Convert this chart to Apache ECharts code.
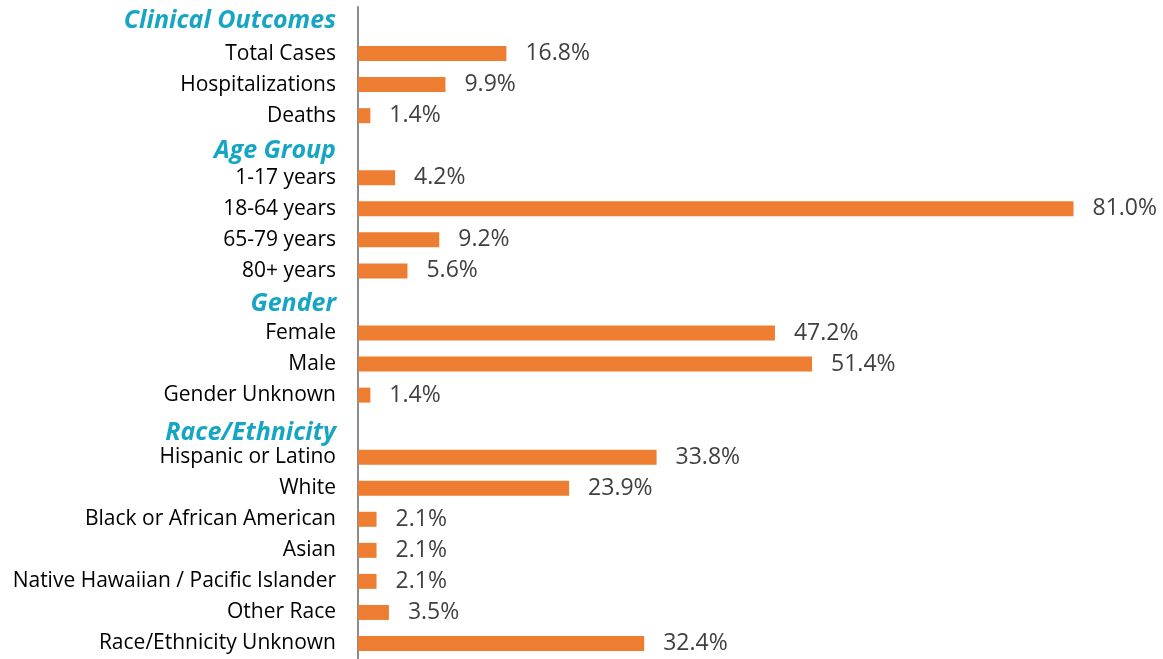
<!DOCTYPE html>
<html><head><meta charset="utf-8">
<script src="https://cdn.jsdelivr.net/npm/echarts@6/dist/echarts.min.js"></script>
<style>html,body{margin:0;padding:0;background:#fff}#c{width:1163px;height:659px}</style>
</head><body><div id="c"></div>
<script>
const categories = [
  'Clinical Outcomes','Total Cases','Hospitalizations','Deaths',
  'Age Group','1-17 years','18-64 years','65-79 years','80+ years',
  'Gender','Female','Male','Gender Unknown',
  'Race/Ethnicity','Hispanic or Latino','White','Black or African American','Asian','Native Hawaiian / Pacific Islander','Other Race','Race/Ethnicity Unknown'
];
const headers = ['Clinical Outcomes','Age Group','Gender','Race/Ethnicity'];
const values = [
  null,16.8,9.9,1.4,
  null,4.2,81.0,9.2,5.6,
  null,47.2,51.4,1.4,
  null,33.8,23.9,2.1,2.1,2.1,3.5,32.4
];
const headerStyleKeys = ['h0','h1','h2','h3'];

const chart = echarts.init(document.getElementById('c'));
const hBase = {fontFamily:'Open Sans',fontSize:25,fontWeight:'bold',fontStyle:'italic',color:'#17a5c4'};
chart.setOption({
  animation:false,
  grid:{left:358,width:795,top:7,height:655,containLabel:false},
  xAxis:{type:'value',min:0,max:90,show:false},
  yAxis:{
    type:'category',inverse:true,data:categories,
    axisLine:{show:true,lineStyle:{color:'#8c8c8c',width:2}},
    axisTick:{show:false},
    axisLabel:{
      margin:22,
      formatter:function(v){
        const i=headers.indexOf(v);
        if(i>=0) return '{'+headerStyleKeys[i]+'|'+v+'}';
        return '{n|'+v+'}';
      },
      rich:{
        n:{fontFamily:'Open Sans',fontSize:21,color:'#000'},
        h0:Object.assign({},hBase,{padding:[0,0,4,0]}),
        h1:Object.assign({},hBase,{padding:[8,0,0,0]}),
        h2:Object.assign({},hBase,{padding:[4,0,0,0]}),
        h3:Object.assign({},hBase,{padding:[14,0,0,0]})
      }
    }
  },
  series:[{
    type:'bar',data:values,barWidth:15,
    itemStyle:{color:'#ed7d31'},
    label:{show:true,position:'right',distance:19,fontFamily:'Open Sans',fontSize:23,color:'#404040',
      formatter:function(p){return p.value==null?'':p.value.toFixed(1)+'%';}}
  }]
});
</script></body></html>
